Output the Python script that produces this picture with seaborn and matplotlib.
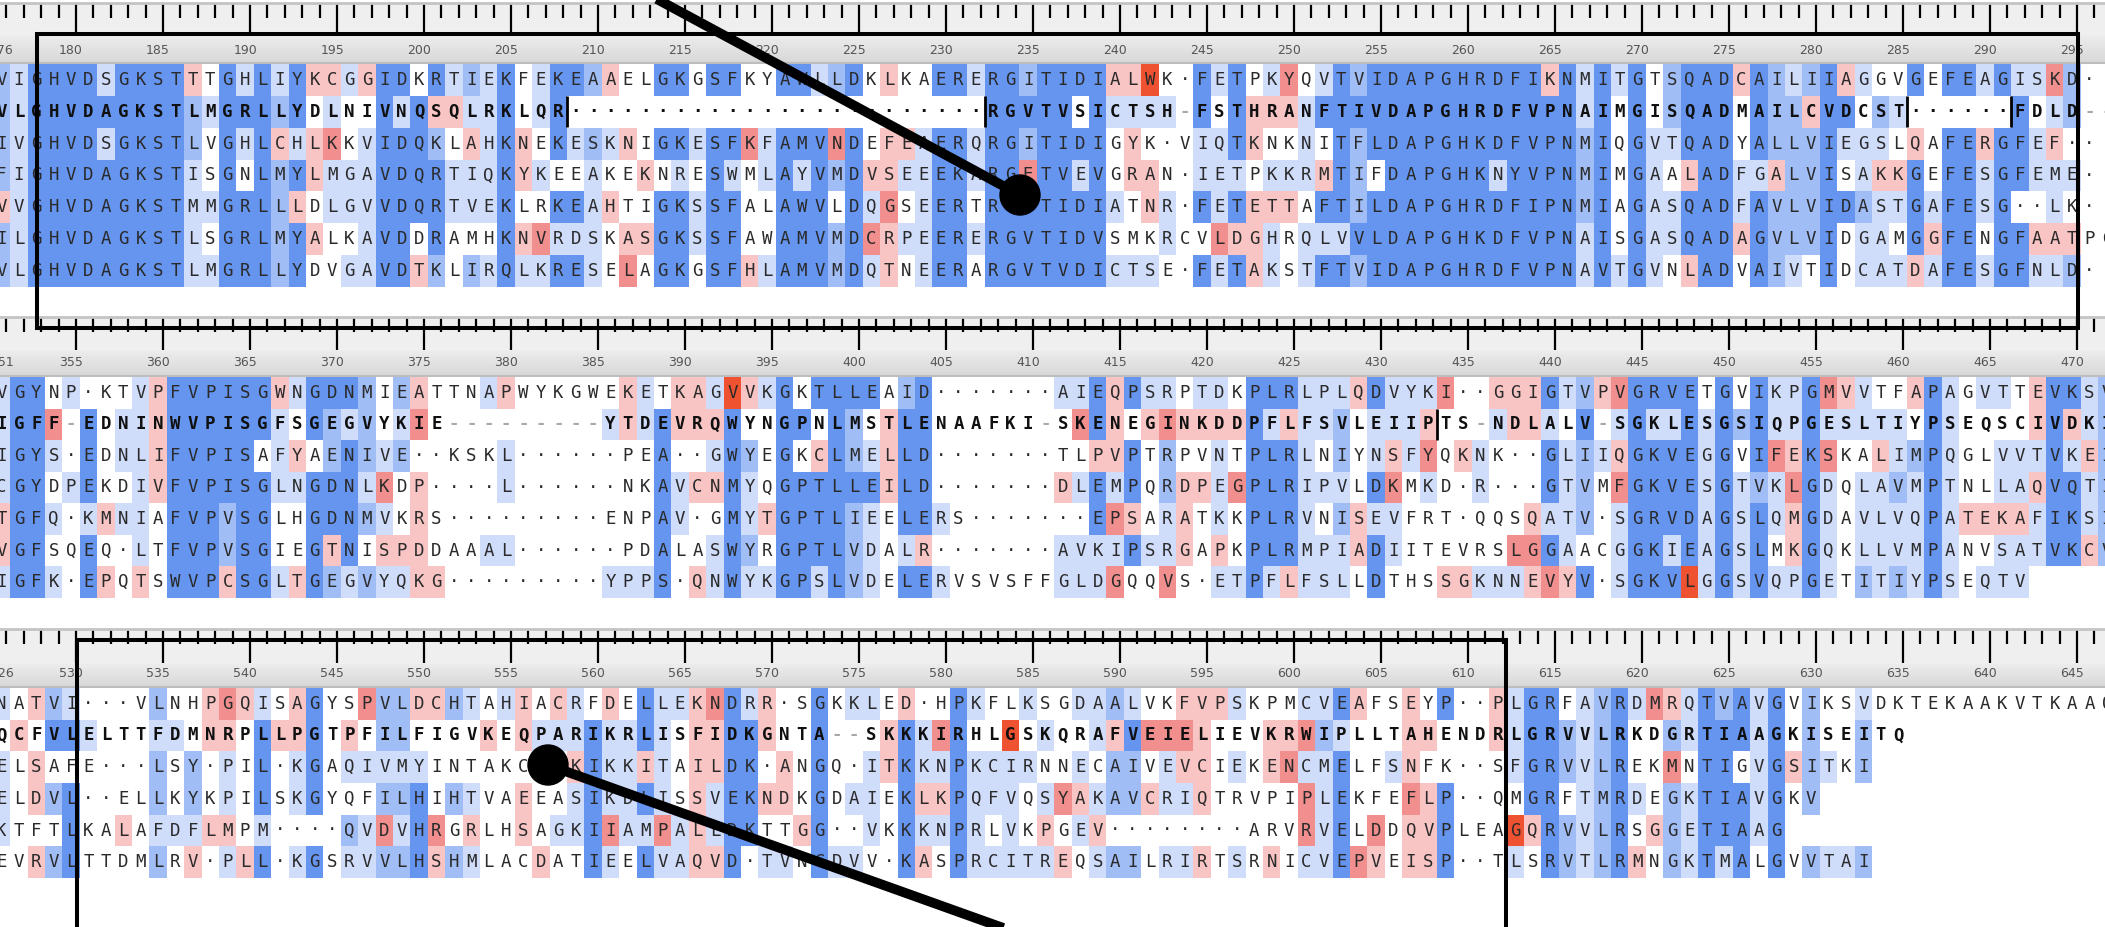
import numpy as np
import matplotlib
matplotlib.use("Agg")
import matplotlib.pyplot as plt
from matplotlib.colors import ListedColormap, LinearSegmentedColormap
from matplotlib.patches import Rectangle, Circle
import seaborn as sns

W, H = 2105, 927
PITCH = 17.4      # px per alignment column
X0 = 1.5          # centre of the first visible column
N_COLS = 122

# residue shading classes: 0 white, 1-3 blue (light..strong), 4-6 red (light..strong)
shade_colors = ['#ffffff', '#cfdcfa', '#a0bdf5', '#6595ef', '#f8c4c4', '#f18e8e', '#ef5230']

# ---------------- block 1 : columns 176-297 ----------------
b1_start = 176
b1_seqs = [
    "VIGHVDSGKSTTTGHLIYKCGGIDKRTIEKFEKEAAELGKGS" + "FKYAWLLDKLKAERERGITIDIALWK·FETPKYQVTVIDA" + "PGHRDFIKNMITGTSQADCAILIIAGGVGEFEAGISKD··",
    "VLGHVDAGKSTLMGRLLYDLNIVNQSQLRKLQR" + "·" * 24 + "RGVTVSICTSH-FSTHRANFTIVDAPGHRDFVPNAIMGISQADMAILCVDCST" + "·" * 6 + "FDLD--",
    "IVGHVDSGKSTLVGHLCHLKKVIDQKLAHKNEKESKNIGKES" + "FKFAMVNDEFEAERQRGITIDIGYK·VIQTKNKNITFLDA" + "PGHKDFVPNMIQGVTQADYALLVIEGSLQAFERGFEF···",
    "FIGHVDAGKSTISGNLMYLMGAVDQRTIQKYKEEAKEKNRES" + "WMLAYVMDVSEEEKARGETVEVGRAN·IETPKKRMTIFDA" + "PGHKNYVPNMIMGAALADFGALVISAKKGEFESGFEME··",
    "VVGHVDAGKSTMMGRLLLDLGVVDQRTVEKLRKEAHTIGKSS" + "FALAWVLDQGSEERTRGVTIDIATNR·FETETTAFTILDA" + "PGHRDFIPNMIAGASQADFAVLVIDASTGAFESG··LK··",
    "ILGHVDAGKSTLSGRLMYALKAVDDRAMHKNVRDSKASGKSS" + "FAWAMVMDCRPEERERGVTIDVSMKRCVLDGHRQLVVLDA" + "PGHKDFVPNAISGASQADAGVLVIDGAMGGFENGFAATPG",
    "VLGHVDAGKSTLMGRLLYDVGAVDTKLIRQLKRESELAGKGS" + "FHLAMVMDQTNEERARGVTVDICTSE·FETAKSTFTVIDA" + "PGHRDFVPNAVTGVNLADVAIVTIDCATDAFESGFNLD··",
]
# one group per column, first character = top row
b1_shade = """
2222422 1111111 3333333 3333333 3333333 3333333 1313333 3333333 3333333 3333333
3333333 4221111 0100101 3333333 1310333 3333333 1242222 3313433 4044040 4151100
1001101 4011111 3333333 3133333 0333304 3423332 1401100 2141102 1111101 3333333
0044041 1101051 3330313 3010313 2021111 4010400 0040045 0004040 3030333 3031333
0010110 3033333 3031333 0050004 0011001 3033333 3031333 1033333 2052022 3033333
0004151 4044544 0041010 0011111 3033333 3033333 1011010 3333333 3333333 2325333
3333333 3333333 3031333 3333333 4100101 4144001 6104401 0100110 0000000 3311303
1011151 3331343 0440444 1401411 5401400 0111011 1304313 3333313 2322232 3330333
3333333 3333333 3333333 3333333 3333333 3333333 3331333 3333333 3333333 4333333
3333333 1122211 3333333 1000001 3333333 0011111 2210110 3334334 3333333 3333333
4001140 3331333 2224222 1222221 2422220 3333333 4310300 1011211 0214111 0104101
3043334 0000141 3033333 3033333 1041101 3033333 1333033 1011041 5141141 2201042
0000000 0000000
"""
b1_gap_bars = [(1, 33), (1, 57), (1, 110), (1, 116)]

# ---------------- block 2 : columns 351-472 ----------------
b2_start = 351
b2_seqs = [
    "VGYNP·KTVPFVPISGWNGDNMIEATTNAPWYKGWEKETKAG" + "VVKGKTLLEAID" + "·" * 7 + "AIEQPSRPTDKPLRLPLQDVY" + "KI··GGIGTVPVGRVETGVIKPGMVVTFAPAGVTTEVKSV",
    "IGFF-EDNINWVPISGFSGEGVYKIE" + "-" * 9 + "YTDEVRQ" + "WYNGPNLMSTLENAAFKI-SKENEGINKDDPFLFSVLEII" + "PTS-NDLALV-SGKLESGSIQPGESLTIYPSEQSCIVDKI",
    "IGYS·EDNLIFVPISAFYAENIVE··KSKL" + "·" * 6 + "PEA··G" + "WYEGKCLMELLD" + "·" * 7 + "TLPVPTRPVNTPLRLNIYNSF" + "YQKNK··GLIIQGKVEGGVIFEKSKALIMPQGLVVTVKEI",
    "CGYDPEKDIVFVPISGLNGDNLKDP····L" + "·" * 6 + "NKAVCN" + "MYQGPTLLEILD" + "·" * 7 + "DLEMPQRDPEGPLRIPVLDKM" + "KD·R···GTVMFGKVESGTVKLGDQLAVMPTNLLAQVQTI",
    "TGFQ·KMNIAFVPVSGLHGDNMVKRS" + "·" * 9 + "ENPAV·G" + "MYTGPTLIEELERS" + "·" * 7 + "EPSARATKKPLRVNISEVF" + "RT·QQSQATV·SGRVDAGSLQMGDAVLVQPATEKAFIKSI",
    "VGFSQEQ·LTFVPVSGIEGTNISPDDAAAL" + "·" * 6 + "PDALAS" + "WYRGPTLVDALR" + "·" * 7 + "AVKIPSRGAPKPLRMPIADII" + "TEVRSLGGAACGGKIEAGSLMKGQKLLVMPANVSATVKCV",
    "IGFK·EPQTSWVPCSGLTGEGVYQKG" + "·" * 9 + "YPPS·QN" + "WYKGPSLVDELERVSVSFFGLDGQQVS·ETPFLFSLLDTH" + "SSGKNNEVYV·SGKVLGGSVQPGETITIYPSEQTV",
]
b2_shade = """
1111441 3333333 3333333 0510101 1001000 0333133 0000404 0110100 1111114 4444000
3333333 3333333 3333333 3333224 3333333 3303333 4111001 1041004 3303333 3223342
3133331 2221202 0015141 2120041 4504444 0000004 0000000 0000000 1000010 4011010
0000000 0000000 0000000 0000000 0000000 0100001 4400001 1100001 0333333 4401100
4404004 1414011 6333333 4021121 1000401 3333333 0303333 3043331 3333333 3223222
3013111 0444000 2333313 3333343 0000101 0000000 0000000 0000000 0000000 0000000
0000000 1004011 1501011 3343311 4441515 3033430 1400010 1522115 0404440 1404000
1411141 0405001 3333333 3133331 3433334 1111111 1101011 1221211 4000440 3113133
1145110 1110000 1451000 5000004 0040004 0011001 4100001 4400051 4400454 3133135
1011114 2322203 4010000 5145111 3333333 3133333 3133313 3333336 0111111 3333333
0201111 3332333 1151101 1145441 3333333 5151111 4100000 1101112 0141111 0112112
4021111 3333333 1111111 0000400 1000401 1011411 0011411 4414110 3333330 3413330
1141140 2222220
"""
b2_gap_bars = [(1, 83)]

# ---------------- block 3 : columns 526-647 ----------------
b3_start = 526
b3_seqs = [
    "NATVI···VLNHPGQISAGYSPVLDCHTAHIACRFDELLEKN" + "DRR·SGKKLED·HPKFLKSGDAALVKFVPSKPMCVEAFSE" + "YP··PLGRFAVRDMRQTVAVGVIKSVDKTEKAAKVTKAAQ",
    "QCFVLELTTFDMNRPLLPGTPFILFIGVKEQPARIKRLISFI" + "DKGNTA--SKKKIRHLGSKQRAFVEIELIEVKRWIPLLTA" + "HENDRLGRVVLRKDGRTIAAGKISEITQ",
    "ELSAFE···LSY·PIL·KGAQIVMYINTAKCEVKIKKITAIL" + "DK·ANGQ·ITKKNPKCIRNNECAIVEVCIEKENCMELFSN" + "FK··SFGRVVLREKMNTIGVGSITKI",
    "ELDVL··ELLKYKPILSKGYQFILHIHTVAEEASIKDLISSV" + "EKNDKGDAIEKLKPQFVQSYAKAVCRIQTRVPIPLEKFEF" + "LP··QMGRFTMRDEGKTIAVGKV",
    "KTFTLKALAFDFLMPM····QVDVHRGRLHSAGKIIAMPALL" + "DKTTGG··VKKKNPRLVKPGEV" + "·" * 8 + "ARVRVELDDQ" + "VPLEAGQRVVLRSGGETIAAG",
    "EVRVLTTDMLRV·PLL·KGSRVVLHSHMLACDATIEELVAQV" + "D·TVNGDVV·KASPRCITREQSAILRIRTSRNICVEPVEI" + "SP··TLSRVTLRMNGKTMALGVVTAI",
]
b3_shade = """
101110 040000 404404 230202 130333 010000 000000 000040 000000 212212
010010 002214 440040 541141 400004 133313 040000 441101 333303 000000
041021 501011 221252 221212 401333 400054 200202 100141 040000 100000
440440 010004 410010 114110 033333 411151 011110 334313 111151 100011
444444 544114 333333 133330 440401 004401 000040 333333 000001 100101
101110 044000 433333 011414 051410 333333 101111 001101 061111 101001
010141 000504 101410 110141 242202 132202 050400 051101 454101 444404
400000 101001 000000 044004 045000 151551 121111 313333 400005 000054
001000 444544 040444 300333 000000 000000 440000 111061 333340 333333
022022 111111 222222 333333 100104 500040 425222 110111 333333 233331
330333 111110 333333 004000 222202 001001 000001 122002
"""
b3_gap_bars = []


def shade_matrix(code, n_rows):
    cols = code.split()
    cols = (cols + ['0' * n_rows] * N_COLS)[:N_COLS]
    return np.array([[int(c[r]) for c in cols] for r in range(n_rows)])


def letter_matrix(seqs):
    return np.array([list(s.ljust(N_COLS)[:N_COLS]) for s in seqs])


def col_axes(fig, top, bottom):
    left = (X0 - PITCH / 2) / W
    return fig.add_axes([left, 1 - bottom / H, N_COLS * PITCH / W, (bottom - top) / H])


band_cmap = LinearSegmentedColormap.from_list('band', ['#ececec', '#d7d7d7'])
cell_cmap = ListedColormap(shade_colors)


def draw_block(fig, seqs, shade, start, tick_top, num_top, rows_top, rows_bottom, gap_bars):
    cols = np.arange(N_COLS)
    numbers = start + cols

    # tick ruler
    ax_t = col_axes(fig, tick_top, num_top)
    ax_t.set_facecolor('#efefef')
    ax_t.set_xlim(0, N_COLS)
    ax_t.set_ylim(0, 1)
    for s in ['left', 'right', 'bottom']:
        ax_t.spines[s].set_visible(False)
    ax_t.spines['top'].set_color('#c4c4c4')
    ax_t.spines['top'].set_linewidth(2)
    ax_t.set_xticks(cols[numbers % 5 == 0] + 0.78)
    ax_t.set_xticks(cols[numbers % 5 != 0] + 0.78, minor=True)
    ax_t.tick_params(axis='x', which='both', top=True, bottom=False, labeltop=False,
                     labelbottom=False, direction='in', color='black', width=1.6)
    ax_t.tick_params(axis='x', which='major', length=(num_top - tick_top - 1) * 0.72)
    ax_t.tick_params(axis='x', which='minor', length=11)
    ax_t.set_yticks([])

    # number band
    ax_n = col_axes(fig, num_top, rows_top)
    ax_n.imshow(np.linspace(0, 1, 32)[:, None], cmap=band_cmap, aspect='auto',
                extent=[0, N_COLS, rows_top, num_top])
    ax_n.set_xlim(0, N_COLS)
    ax_n.set_ylim(rows_top, num_top)
    ax_n.axis('off')
    ax_n.axhline(rows_top - 0.8, color='#bdbdbd', lw=1.5)
    label_cols = [0] + [k for k in cols if numbers[k] % 5 == 0]
    for k in label_cols:
        ax_n.text(k + 0.5, rows_top - 14, str(start + k), ha='center', va='center',
                  fontsize=9, color='#555555', family='DejaVu Sans')

    # residues
    ax_h = col_axes(fig, rows_top, rows_bottom)
    sns.heatmap(shade_matrix(shade, len(seqs)), ax=ax_h, cmap=cell_cmap, vmin=-0.5, vmax=6.5,
                cbar=False, annot=letter_matrix(seqs), fmt='',
                annot_kws=dict(fontsize=12.5, family='DejaVu Sans Mono'),
                xticklabels=False, yticklabels=False)
    ax_h.tick_params(length=0)
    for t in ax_h.texts:
        r = int(t.get_position()[1])
        if r == 1:
            t.set_fontweight('bold')
            t.set_color('#101010')
        else:
            t.set_color('#2a2a2a')
        if t.get_text() == '-':
            t.set_color('#a8a8a8')
    for r, x in gap_bars:
        ax_h.vlines(x, r + 0.02, r + 0.98, color='black', lw=2)


sns.set_style('white')
fig = plt.figure(figsize=(W / 100, H / 100), dpi=100)
fig.patch.set_facecolor('white')

draw_block(fig, b1_seqs, b1_shade, b1_start, 3, 36, 64, 287, b1_gap_bars)
draw_block(fig, b2_seqs, b2_shade, b2_start, 317, 351, 377, 598, b2_gap_bars)
draw_block(fig, b3_seqs, b3_shade, b3_start, 629, 664, 688, 878, b3_gap_bars)

# callout frames and pointer lines
ov = fig.add_axes([0, 0, 1, 1], zorder=10)
ov.set_xlim(0, W)
ov.set_ylim(H, 0)
ov.axis('off')
ov.add_patch(Rectangle((37, 34), 2078 - 37, 328 - 34, fill=False, lw=2.9, ec='black'))
ov.add_patch(Rectangle((77, 640), 1506 - 77, 420, fill=False, lw=2.9, ec='black'))
ov.plot([640, 1020], [-10, 195], color='black', lw=7, solid_capstyle='butt')
ov.add_patch(Circle((1020, 195), 20, color='black'))
ov.plot([548, 1023], [765, 935], color='black', lw=7, solid_capstyle='butt')
ov.add_patch(Circle((548, 765), 20, color='black'))

fig.savefig('out.png', dpi=100)
